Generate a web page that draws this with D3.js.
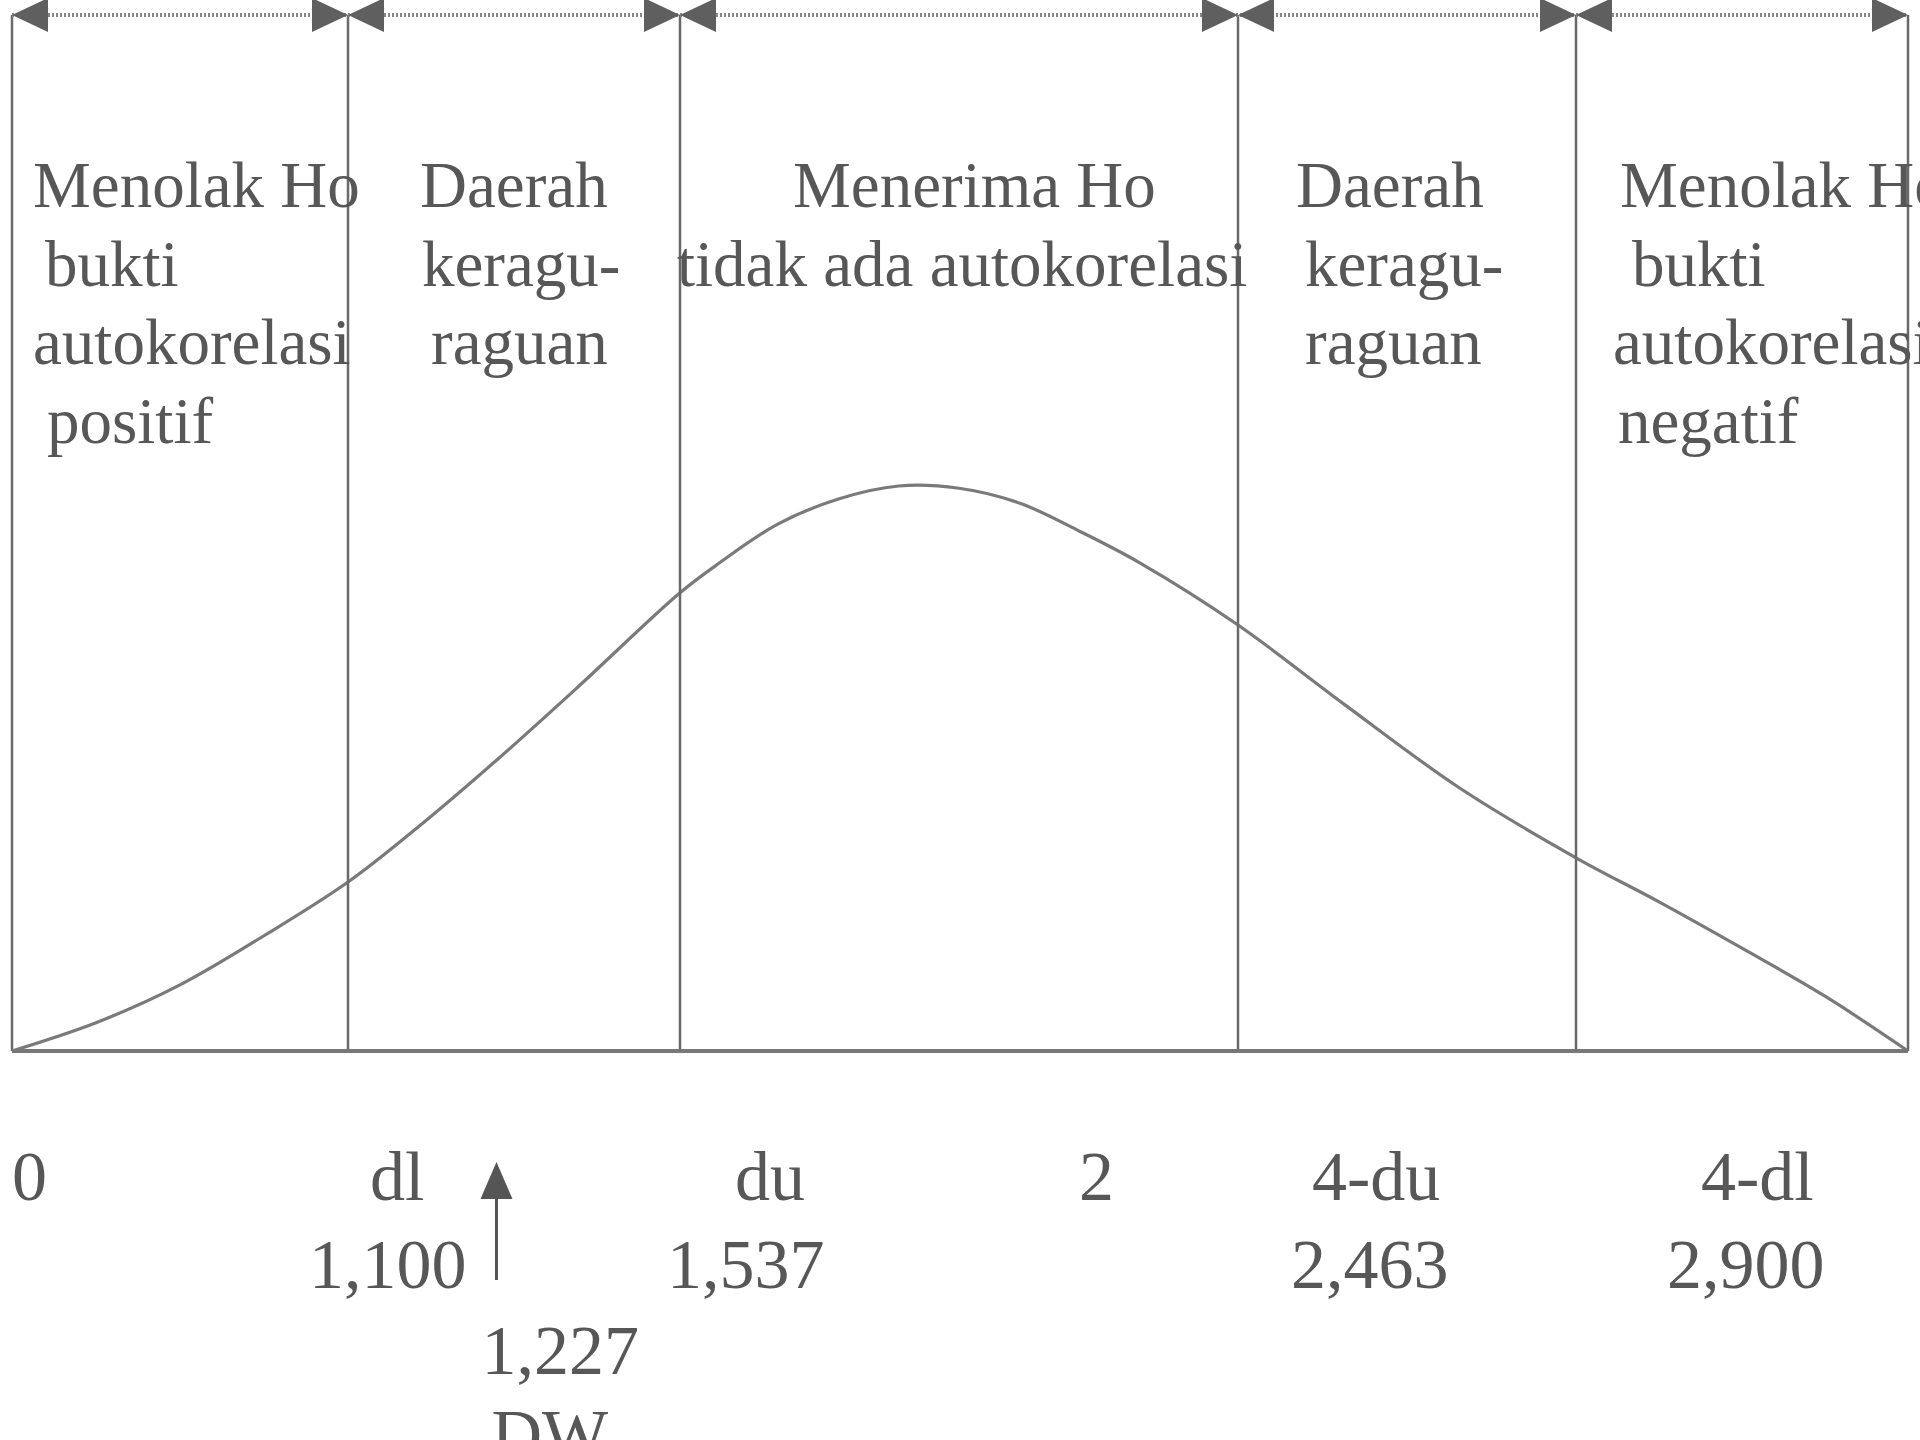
<!DOCTYPE html>
<html>
<head>
<meta charset="UTF-8">
<title>Uji Durbin-Watson</title>
<script src="https://cdn.jsdelivr.net/npm/d3@7"></script>
<style>
body { margin: 0; background: #fff; overflow: hidden; }
svg { display: block; }
text { font-family: 'Liberation Serif', serif; fill: #575757; }
</style>
</head>
<body>
<svg id="chart" width="1920" height="1440"></svg>
<script>
// batas daerah keputusan (nilai DW)
const batas = [0, 1.100, 1.537, 2.463, 2.900, 4];
const daerahTeks = [
    ["Menolak Ho", "bukti", "autokorelasi", "positif"],
    ["Daerah", "keragu-", "raguan"],
    ["Menerima Ho", "tidak ada autokorelasi"],
    ["Daerah", "keragu-", "raguan"],
    ["Menolak Ho", "bukti", "autokorelasi", "negatif"]
];
const tickNilai = [0, 1.100, 1.537, 2, 2.463, 2.900];
const tickNama = ["0", "dl", "du", "2", "4-du", "4-dl"];
const tickAngka = ["", "1,100", "1,537", "", "2,463", "2,900"];
const dwNilai = 1.227;
const dwAngka = "1,227";
// kurva distribusi (skematik)
const kurvaX = [0, 0.275, 0.55, 0.825, 1.1, 1.2, 1.3, 1.4, 1.537, 1.6, 1.7, 1.8, 1.9, 2.0, 2.1, 2.2, 2.3, 2.463, 2.6, 2.75, 2.9, 3.175, 3.45, 3.725, 4];
const kurvaY = [0, 0.050, 0.117, 0.204, 0.299, 0.405, 0.520, 0.641, 0.811, 0.862, 0.933, 0.977, 1.0, 0.996, 0.970, 0.920, 0.864, 0.754, 0.614, 0.465, 0.342, 0.264, 0.182, 0.097, 0];

// tata letak
const garisAbu = "#6a6a6a";
const yAtas = 15, yDasar = 1051;
const teksDx = [[21, 33, 21, 35], [72, 74, 83], [113, -3], [58, 67, 67], [44, 56, 37, 42]];
const namaDx = [0, 22, 55, 120, 74, 125];
const angkaDx = [0, -39, -13, 0, 53, 91];

const svg = d3.select("#chart");

// skala tidak proporsional: tiap daerah punya lebar sendiri
const x = d3.scaleLinear().domain(batas).range([12, 348, 680, 1238, 1576, 1908]);
const y = d3.scaleLinear().domain([0, 1]).range([yDasar, 486]);

// kurva
const kurva = kurvaX.map((d, i) => [d, kurvaY[i]]);
svg.append("path")
    .datum(kurva)
    .attr("fill", "none")
    .attr("stroke", "#7a7a7a")
    .attr("stroke-width", 3.2)
    .attr("d", d3.line().x(d => x(d[0])).y(d => y(d[1])).curve(d3.curveCatmullRom.alpha(0.5)));

// garis batas vertikal
svg.selectAll(".batas")
    .data(batas)
    .enter().append("line")
    .attr("x1", d => x(d)).attr("x2", d => x(d))
    .attr("y1", yAtas).attr("y2", yDasar)
    .attr("stroke", garisAbu)
    .attr("stroke-width", 2.5);

// garis dasar
svg.append("line")
    .attr("x1", x(0)).attr("x2", x(4))
    .attr("y1", yDasar).attr("y2", yDasar)
    .attr("stroke", "#777")
    .attr("stroke-width", 4);

// panah atas
svg.append("line")
    .attr("x1", x(0)).attr("x2", x(4))
    .attr("y1", yAtas).attr("y2", yAtas)
    .attr("stroke", "#888")
    .attr("stroke-width", 4)
    .attr("stroke-dasharray", "2 2");

const kepala = [];
for (let i = 0; i < batas.length - 1; i++) {
    kepala.push({ ujung: x(batas[i]), arah: 1 });
    kepala.push({ ujung: x(batas[i + 1]), arah: -1 });
}
svg.selectAll(".kepala")
    .data(kepala)
    .enter().append("path")
    .attr("fill", "#5f5f5f")
    .attr("d", d => {
        const b = d.ujung + d.arah * 36;
        return `M${d.ujung},${yAtas}L${b},${yAtas - 17}L${b},${yAtas + 17}Z`;
    });

// teks daerah
daerahTeks.forEach((baris, i) => {
    svg.append("g")
        .selectAll("text")
        .data(baris)
        .enter().append("text")
        .attr("x", (d, j) => x(batas[i]) + teksDx[i][j])
        .attr("y", (d, j) => 207 + j * 78.5)
        .attr("font-size", 65)
        .text(d => d);
});

// label sumbu bawah
svg.selectAll(".nama")
    .data(tickNilai)
    .enter().append("text")
    .attr("x", (d, i) => x(d) + namaDx[i])
    .attr("y", 1200)
    .attr("font-size", 70)
    .text((d, i) => tickNama[i]);

svg.selectAll(".angka")
    .data(tickNilai)
    .enter().append("text")
    .attr("x", (d, i) => x(d) + angkaDx[i])
    .attr("y", 1288)
    .attr("font-size", 70)
    .text((d, i) => tickAngka[i]);

// penanda nilai DW
const xDw = x(dwNilai) + 52;
svg.append("line")
    .attr("x1", xDw).attr("x2", xDw)
    .attr("y1", 1280).attr("y2", 1195)
    .attr("stroke", "#555")
    .attr("stroke-width", 3);
svg.append("path")
    .attr("fill", "#555")
    .attr("d", `M${xDw},1162L${xDw - 16},1199L${xDw + 16},1199Z`);
svg.append("text")
    .attr("x", x(dwNilai) + 37)
    .attr("y", 1374)
    .attr("font-size", 70)
    .text(dwAngka);
svg.append("text")
    .attr("x", x(dwNilai) + 47)
    .attr("y", 1458)
    .attr("font-size", 70)
    .text("DW");
</script>
</body>
</html>
